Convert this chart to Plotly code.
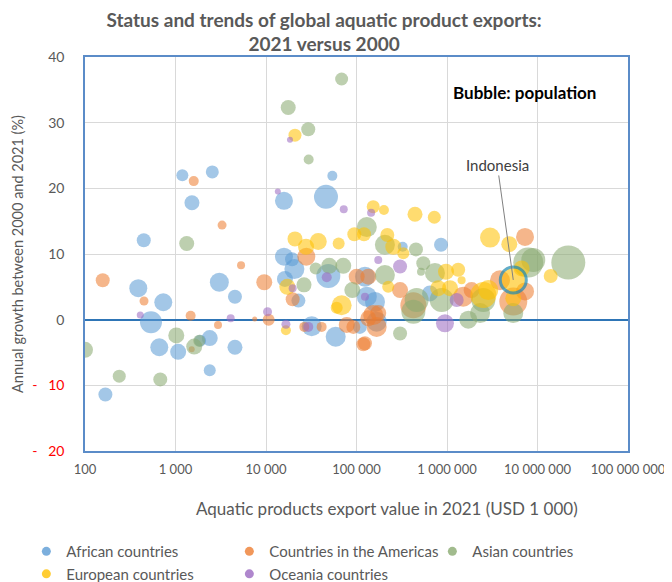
import plotly.graph_objects as go
import numpy as np

# ---------------- data ----------------
# x: aquatic products export value in 2021 (USD 1 000); y: annual growth 2000-2021 (%); b: bubble (population scale)
africa_x = [1190, 2550, 1520, 446, 15800, 46000, 54100, 15800, 20600, 16200, 388, 733, 536, 662, 1070,
            3050, 4540, 2390, 1870, 4540, 2390, 168, 22800, 32000, 58900, 48800, 124000, 160000, 109000,
            859000, 324000, 130000, 167000, 649000, 19400]
africa_y = [22.0, 22.5, 17.8, 12.1, 18.1, 18.7, 21.9, 9.6, 7.7, 6.2, 4.8, 2.65, -0.4, -4.2, -4.9,
            5.7, 3.5, -2.8, -3.2, -4.2, -7.7, -11.4, 2.9, -1.0, -2.6, 6.65, 6.55, 2.7, -1.1,
            11.4, 11.1, 3.5, -0.3, 4.0, 9.2]
africa_b = [6, 6.5, 7.5, 7, 9, 12, 5, 9, 10, 8, 9, 9, 11, 9, 8,
            9.5, 7, 8, 6, 7.5, 6, 7, 7, 10, 10, 12, 10, 10, 7,
            7, 5, 10, 10, 8, 7]

americas_x = [1590, 3270, 5300, 27900, 157, 449, 1470, 2950, 7500, 9570, 10700, 19700, 26500, 41200,
              78000, 92300, 100500, 135000, 119000, 135000, 174000, 167000, 425000, 303000, 1510000,
              1870000, 7280000, 3850000, 5400000, 7280000, 124000, 153000, 1510]
americas_y = [21.1, 14.4, 8.3, 9.6, 6.0, 2.85, 0.6, -0.8, 0.1, 5.7, 0.0, 3.1, -1.1, -1.1,
              -0.8, -1.1, 6.55, 6.55, -3.75, 0.2, 1.0, -1.1, 2.2, 4.5, 3.5,
              4.5, 12.6, 6.0, 2.75, 4.3, -3.6, 0.7, -4.5]
americas_b = [5, 4.5, 4, 9, 7, 4.5, 5, 4, 2.5, 8, 6, 7, 5, 5,
              8, 7, 8, 8, 7, 8, 8, 10, 13, 8, 10,
              8, 9, 10, 14, 9, 7, 10, 3]

asia_x = [68500, 17600, 29300, 29600, 1330, 130000, 100, 239, 679, 1020, 1610, 26300, 35400, 71400,
          89900, 50000, 206000, 454000, 547000, 516000, 206000, 462000, 425000, 736000, 873000,
          1720000, 303000, 2520000, 2320000, 7900000, 8980000, 21900000, 5400000, 1830]
asia_y = [36.65, 32.3, 29.0, 24.4, 11.6, 14.1, -4.6, -8.6, -9.1, -2.4, -4.1, 5.3, 7.8, 8.2,
          4.5, 8.2, 11.4, 10.7, 8.6, 7.3, 6.8, 3.0, 1.2, 7.1, 3.0,
          0.0, -2.1, 3.0, 1.0, 8.7, 9.1, 8.7, 1.0, -3.2]
asia_b = [6.5, 7.5, 7, 5, 7.5, 10, 8, 6.5, 7, 8, 8, 7.5, 6, 8,
          8, 8, 10, 7, 7, 4, 10, 12, 12, 10, 12,
          9, 7, 12, 10, 15, 12, 17, 10, 6]

europe_x = [20900, 153000, 20900, 37800, 27700, 63500, 94600, 121000, 201000, 443000, 724000, 219000,
            255000, 329000, 2990000, 4880000, 6680000, 14000000, 975000, 1330000, 1450000, 801000,
            1080000, 224000, 2520000, 2860000, 5400000, 17200, 68500, 60400, 16600]
europe_y = [28.1, 17.2, 12.3, 11.9, 11.1, 11.6, 13.0, 13.0, 16.7, 16.05, 15.6, 12.9,
            11.1, 10.1, 12.5, 11.5, 7.8, 6.65, 7.3, 7.6, 6.0, 4.8,
            4.8, 5.0, 3.75, 4.5, 3.25, 5.0, 2.2, 1.8, -1.6]
europe_b = [6.5, 6.5, 7.5, 8.5, 8, 6, 7, 7, 5, 7.5, 6.5, 7,
            8, 6, 10, 8, 8, 7, 8, 7, 4, 8,
            8, 6, 13, 10, 8, 8, 10, 6, 5]

oceania_x = [18400, 13500, 72300, 145000, 408, 4070, 10400, 16600, 19700, 46900, 29300, 124000,
             174000, 303000, 1280000, 950000]
oceania_y = [27.4, 19.5, 16.8, 16.3, 0.7, 0.2, 1.2, -0.7, 4.8, 6.45, -1.1, 3.5,
             9.1, 8.1, 3.0, -0.55]
oceania_b = [3, 3, 4, 4, 3.5, 4, 4.5, 4.5, 4, 5, 5, 4,
             4, 7, 7, 9]

indonesia_x = [5400000]
indonesia_y = [6.05]
indonesia_b = [13]

series_names = ["African countries", "Countries in the Americas", "Asian countries",
                "European countries", "Oceania countries"]
x_tickvals = [100, 1000, 10000, 100000, 1000000, 10000000, 100000000]
x_ticktext = ["100", "1 000", "10 000", "100 000", "1 000 000", "10 000 000", "100 000 000"]
y_tickvals = [-20, -10, 0, 10, 20, 30, 40]
y_ticktext = ["<span style='color:#FF0000'>-\u00a0\u00a0\u00a020</span>",
              "<span style='color:#FF0000'>-\u00a0\u00a0\u00a010</span>",
              "0", "10", "20", "30", "40"]

# ---------------- styles ----------------
colors = ["rgba(91,155,213,0.8)", "rgba(237,125,49,0.8)", "rgba(137,170,112,0.8)",
          "rgba(255,192,0,0.8)", "rgba(155,105,193,0.8)"]
FONT = "Lato, 'Open Sans', sans-serif"
GREY = "#595959"

fig = go.Figure()
data = [(africa_x, africa_y, africa_b), (americas_x, americas_y, americas_b),
        (asia_x, asia_y, asia_b), (europe_x, europe_y, europe_b),
        (oceania_x, oceania_y, oceania_b)]
for (xs, ys, bs), name, col in zip(data, series_names, colors):
    fig.add_trace(go.Scatter(x=xs, y=ys, mode="markers", name=name, showlegend=False,
                             marker=dict(size=bs, sizemode="diameter", sizeref=0.5,
                                         color=col, line=dict(width=0))))

# Indonesia highlight
fig.add_trace(go.Scatter(x=indonesia_x, y=indonesia_y, mode="markers", showlegend=False,
                         marker=dict(size=indonesia_b, sizemode="diameter", sizeref=0.5,
                                     color="rgba(255,192,0,0.85)",
                                     line=dict(width=3, color="#1F8AB0"))))

# legend entries
for name, col in zip(series_names, colors):
    fig.add_trace(go.Scatter(x=[None], y=[None], mode="markers", name=name,
                             marker=dict(size=9, color=col)))

fig.update_xaxes(type="log", range=[2, 8], tickvals=x_tickvals, ticktext=x_ticktext,
                 automargin=False,
                 showgrid=True, gridcolor="#D9D9D9", gridwidth=1,
                 showline=True, mirror=True, linecolor="#5B8CC8", linewidth=1.5,
                 ticks="", ticklabelstandoff=6,
                 tickfont=dict(family=FONT, size=13, color=GREY))
fig.update_yaxes(range=[-20, 40], tickvals=y_tickvals, ticktext=y_ticktext,
                 automargin=False,
                 showgrid=True, gridcolor="#D9D9D9", gridwidth=1,
                 zeroline=True, zerolinecolor="#2E75B6", zerolinewidth=2,
                 showline=True, mirror=True, linecolor="#5B8CC8", linewidth=1.5,
                 ticks="", ticklabelstandoff=16,
                 tickfont=dict(family=FONT, size=14, color=GREY),
                 title=dict(text="Annual growth between 2000 and 2021 (%)",
                            font=dict(family=FONT, size=14.5, color=GREY), standoff=5))

# x-axis title (slightly right of the plot centre, as in the reference)
fig.add_annotation(xref="paper", yref="paper", x=0.556, y=0, yshift=-57,
                   xanchor="center", yanchor="middle", showarrow=False,
                   text="Aquatic products export value in 2021 (USD 1 000)",
                   font=dict(family=FONT, size=17, color=GREY))
fig.add_annotation(xref="paper", yref="paper", x=0.81, y=0.909,
                   xanchor="center", yanchor="middle",
                   text="<b>Bubble: population</b>", showarrow=False,
                   font=dict(family=FONT, size=17, color="#000000"))
fig.add_annotation(x=np.log10(indonesia_x[0]), y=indonesia_y[0], text="Indonesia",
                   showarrow=True, arrowhead=0, arrowwidth=1, arrowcolor="#808080",
                   ax=-16, ay=-115, standoff=0,
                   font=dict(family=FONT, size=15, color="#404040"))

# the page has an 8px body margin, so the figure is 8px smaller than the window
fig.update_layout(
    width=664, height=574,
    margin=dict(l=77, r=44, t=49, b=131, autoexpand=False),
    paper_bgcolor="white", plot_bgcolor="white",
    title=dict(text="Status and trends of global aquatic product exports:<br>2021 versus 2000",
               x=0.476, xref="container", xanchor="center",
               y=0.9675, yref="container", yanchor="top",
               font=dict(family=FONT, size=19, color=GREY, weight="bold")),
    legend=dict(orientation="h", xref="paper", yref="paper",
                x=-0.108, y=-0.2134, xanchor="left", yanchor="top",
                entrywidth=158, entrywidthmode="pixels", itemwidth=30,
                font=dict(family=FONT, size=15, color=GREY),
                tracegroupgap=0, bgcolor="rgba(0,0,0,0)"),
    showlegend=True,
)

fig.write_html("out.html")
